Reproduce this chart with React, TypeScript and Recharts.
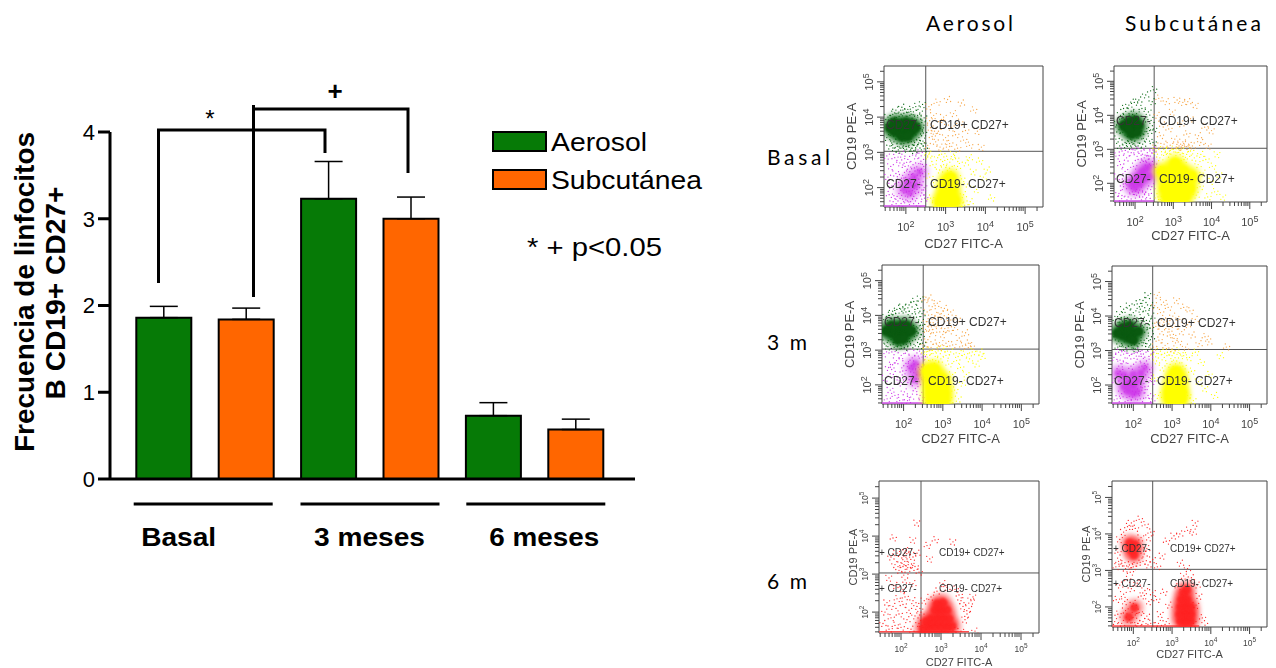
import React from 'react'
import {
  BarChart, Bar, ErrorBar, XAxis, YAxis,
  ScatterChart, Scatter, ReferenceArea, ReferenceLine,
} from 'recharts'

// --- bar chart values ---
const GROUPS = ['Basal', '3 meses', '6 meses']
const AEROSOL = [1.86, 3.23, 0.73]
const SUBCUTANEA = [1.84, 3.0, 0.57]
const AEROSOL_ERR = [0.13, 0.43, 0.15]
const SUBCUTANEA_ERR = [0.13, 0.25, 0.12]
const Y_TICKS = [0, 1, 2, 3, 4]

const barData = GROUPS.map((name, i) => ({
  name,
  aerosol: AEROSOL[i],
  subcutanea: SUBCUTANEA[i],
  aerosolErr: [0, AEROSOL_ERR[i]],
  subcutaneaErr: [0, SUBCUTANEA_ERR[i]],
}))

// --- cytometry events, read as [log10 CD27, log10 CD19] ---
type P = [number, number]

const B_A_GREEN: P[] = [[1.52,3.42],[1.58,3.71],[1.6,3.18],[1.63,3.95],[1.67,4.08],[1.7,3.3],[1.72,3.12],[1.75,4.2],[1.78,3.45],[1.81,3.07],[1.83,4.02],[1.86,3.24],[1.9,4.28],[1.92,3.15],[1.95,4.11],[1.98,3.33],[2.02,3.09],[2.05,4.22],[2.08,3.2],[2.1,4.05],[2.13,3.38],[2.16,3.12],[2.19,4.15],[2.22,3.28],[2.25,4.3],[2.28,3.18],[2.3,4.0],[2.33,3.42],[2.35,4.12],[2.38,3.25],[2.4,3.85],[2.42,4.36],[2.44,3.55],[2.46,3.1],[2.46,3.98],[1.55,4.0],[2.2,3.05],[1.66,3.55],[2.36,3.68],[2.43,3.32]]
const B_A_GREEN_CORE: P[] = [[1.6,3.7],[1.7,3.6],[1.7,3.85],[1.85,3.55],[1.85,3.8],[2.0,3.65],[2.0,3.85],[2.15,3.6],[2.15,3.8],[2.25,3.7],[1.9,3.45],[2.05,3.45]]
const B_A_ORANGE: P[] = [[2.55,3.2],[2.58,4.3],[2.62,3.7],[2.66,3.45],[2.7,4.05],[2.75,3.3],[2.78,4.42],[2.82,3.6],[2.86,3.15],[2.9,3.85],[2.95,4.0],[3.0,3.42],[3.05,4.5],[3.1,3.25],[3.15,3.7],[3.2,4.1],[3.25,3.5],[3.3,3.12],[3.35,3.85],[3.4,4.4],[3.45,3.35],[3.5,3.62],[3.6,3.2],[3.7,4.2],[3.8,3.6],[3.9,3.15],[2.6,3.9],[2.72,3.6],[3.02,3.15]]
const B_A_MAGENTA: P[] = [[1.52,2.9],[1.55,2.3],[1.58,1.8],[1.62,2.6],[1.65,2.05],[1.68,1.6],[1.72,2.85],[1.75,2.4],[1.78,1.75],[1.82,2.15],[1.85,2.7],[1.88,1.55],[1.9,2.95],[1.92,2.35],[1.95,1.85],[1.98,2.6],[2.0,1.65],[2.03,2.2],[2.05,2.8],[2.08,1.9],[2.1,2.45],[2.12,1.6],[2.15,2.05],[2.18,2.65],[2.2,1.75],[2.22,2.3],[2.25,2.9],[2.28,1.95],[2.3,2.5],[2.32,1.55],[2.35,2.15],[2.38,2.75],[2.4,1.85],[2.42,2.4],[2.45,2.6],[2.46,2.0],[2.33,2.98],[2.47,1.7]]
const B_A_MAGENTA_CORE: P[] = [[1.95,1.95],[2.05,2.15],[2.2,2.3],[2.35,2.45],[2.1,1.85],[2.25,2.05]]
const B_A_YELLOW: P[] = [[2.55,2.9],[2.6,2.3],[2.62,1.7],[2.68,2.65],[2.72,2.05],[2.75,1.55],[2.8,2.85],[2.85,2.5],[2.9,2.95],[2.95,2.65],[3.05,2.8],[3.1,2.55],[3.2,2.95],[3.3,2.6],[3.4,2.25],[3.45,1.8],[3.5,2.7],[3.55,2.1],[3.62,1.6],[3.7,2.45],[3.78,1.95],[3.85,2.75],[3.95,2.3],[4.05,2.5],[4.15,1.7],[3.35,1.55],[3.25,2.82],[2.58,2.95],[3.6,2.85],[3.48,1.5]]
const B_A_YELLOW_CORE: P[] = [[3.0,1.55],[3.1,1.6],[2.95,1.75],[3.12,1.8],[3.0,1.95],[3.15,2.0],[3.03,2.15],[3.12,2.28],[2.88,1.58],[3.22,1.62]]

const B_S_GREEN: P[] = [[1.5,3.3],[1.55,3.8],[1.6,3.1],[1.62,4.0],[1.68,3.5],[1.7,4.2],[1.74,3.2],[1.78,3.95],[1.8,3.08],[1.84,4.3],[1.88,3.3],[1.9,4.12],[1.94,3.15],[1.98,4.38],[2.0,3.25],[2.04,4.05],[2.08,3.1],[2.1,4.45],[2.14,3.4],[2.18,4.2],[2.2,3.15],[2.24,3.9],[2.28,4.6],[2.3,3.3],[2.35,4.1],[2.38,3.55],[2.42,3.85],[2.45,4.4],[2.47,3.2],[2.48,4.75],[2.48,3.6],[1.58,3.58],[2.26,3.52]]
const B_S_GREEN_CORE: P[] = [[1.7,3.7],[1.85,3.8],[1.95,3.6],[2.0,3.85],[2.1,3.7],[1.9,3.45],[2.05,3.5],[1.8,3.62]]
const B_S_ORANGE: P[] = [[2.55,3.1],[2.58,4.0],[2.62,4.5],[2.66,3.4],[2.7,3.75],[2.76,3.15],[2.82,4.4],[2.88,3.6],[2.92,3.12],[2.98,4.1],[3.04,3.3],[3.1,4.45],[3.15,3.1],[3.2,3.75],[3.25,4.38],[3.3,3.08],[3.35,3.45],[3.4,3.15],[3.45,3.9],[3.5,3.1],[3.58,4.3],[3.66,3.4],[3.72,3.2],[3.82,3.65],[3.92,3.1],[4.0,3.55],[3.12,3.05],[3.25,3.22],[3.38,4.4]]
const B_S_MAGENTA: P[] = [[1.5,2.8],[1.55,2.2],[1.58,1.7],[1.62,2.55],[1.66,2.95],[1.7,1.9],[1.74,2.35],[1.78,2.75],[1.82,1.6],[1.86,2.1],[1.9,2.9],[1.93,1.75],[1.96,2.5],[2.0,2.98],[2.04,1.65],[2.08,2.7],[2.12,1.8],[2.16,2.95],[2.2,1.6],[2.24,2.75],[2.28,1.75],[2.32,2.9],[2.36,1.65],[2.4,2.8],[2.44,1.9],[2.47,2.98],[2.48,2.55],[1.65,1.55],[1.75,2.05],[2.3,2.62]]
const B_S_MAGENTA_CORE: P[] = [[1.9,1.95],[2.0,2.05],[2.08,2.2],[2.18,2.35],[2.28,2.45],[2.38,2.5],[2.0,1.85],[2.12,1.98],[2.26,2.15],[2.4,2.2]]
const B_S_YELLOW: P[] = [[2.55,2.95],[2.6,1.6],[2.65,2.75],[2.7,1.5],[2.75,3.0],[2.82,2.85],[2.9,2.95],[3.0,3.0],[3.1,2.9],[3.2,2.98],[3.35,2.85],[3.45,2.95],[3.55,2.75],[3.6,1.65],[3.65,2.55],[3.7,1.9],[3.78,2.3],[3.85,2.7],[3.9,1.6],[3.96,2.05],[4.02,2.5],[4.08,1.75],[4.15,2.85],[4.2,2.25],[4.3,1.6],[3.28,2.7],[3.72,2.85],[2.62,2.4]]
const B_S_YELLOW_CORE: P[] = [[2.85,1.6],[3.0,1.6],[3.15,1.6],[3.3,1.62],[2.8,1.85],[2.95,1.85],[3.1,1.85],[3.25,1.85],[3.42,1.85],[2.85,2.1],[3.0,2.1],[3.15,2.1],[3.3,2.1],[2.95,2.35],[3.1,2.35],[3.25,2.35],[3.48,2.2],[2.72,2.35],[3.05,2.58]]

const M3_A_GREEN: P[] = [[1.5,3.2],[1.55,3.95],[1.6,3.1],[1.64,4.0],[1.68,3.3],[1.72,4.12],[1.76,3.08],[1.8,4.05],[1.84,3.2],[1.9,4.2],[1.94,3.12],[1.98,4.25],[2.02,3.08],[2.06,4.1],[2.1,3.25],[2.14,4.3],[2.18,3.15],[2.22,4.05],[2.26,4.4],[2.3,3.3],[2.33,3.95],[2.36,4.2],[2.38,3.1],[2.4,3.7],[2.43,4.48],[2.45,3.45],[2.47,4.05],[2.48,3.2],[2.46,3.8],[2.28,3.62],[2.37,3.5]]
const M3_A_GREEN_CORE: P[] = [[1.55,3.55],[1.68,3.5],[1.68,3.7],[1.8,3.45],[1.8,3.65],[1.95,3.5],[1.95,3.7],[2.08,3.5],[2.08,3.7],[2.2,3.55],[1.85,3.3],[2.0,3.32]]
const M3_A_ORANGE: P[] = [[2.52,3.15],[2.54,4.45],[2.56,3.6],[2.6,4.1],[2.62,3.3],[2.65,4.5],[2.68,3.8],[2.7,3.08],[2.73,4.25],[2.76,3.5],[2.8,4.0],[2.83,3.2],[2.86,4.35],[2.9,3.7],[2.92,3.1],[2.96,4.05],[3.0,3.45],[3.04,4.2],[3.08,3.2],[3.12,3.85],[3.16,3.55],[3.2,4.1],[3.25,3.15],[3.3,3.65],[3.36,3.9],[3.42,3.35],[3.5,3.12],[3.58,3.5],[3.65,3.2],[3.72,3.1],[2.58,3.82],[2.66,3.58],[2.78,3.7],[2.88,3.95],[3.05,3.62]]
const M3_A_MAGENTA: P[] = [[1.5,2.9],[1.54,2.2],[1.58,1.6],[1.62,2.5],[1.66,1.85],[1.7,2.95],[1.74,2.3],[1.78,1.7],[1.82,2.7],[1.86,2.05],[1.9,1.55],[1.94,2.85],[1.98,2.4],[2.02,1.8],[2.06,2.62],[2.1,2.98],[2.14,2.15],[2.18,1.65],[2.22,2.78],[2.26,2.35],[2.3,1.9],[2.34,2.92],[2.38,2.5],[2.42,1.7],[2.45,2.2],[2.47,2.8],[2.48,1.55],[2.2,2.55],[1.92,2.2],[2.4,2.1],[2.1,1.55],[1.72,2.58],[2.46,2.52]]
const M3_A_MAGENTA_CORE: P[] = [[2.2,2.5],[2.3,2.6],[2.38,2.32],[2.28,2.15]]
const M3_A_YELLOW: P[] = [[2.53,2.95],[2.56,2.5],[2.6,2.8],[2.65,2.98],[2.7,2.6],[2.75,2.9],[2.82,2.7],[2.88,2.98],[2.95,2.75],[3.02,3.05],[3.08,2.85],[3.15,2.6],[3.2,2.95],[3.25,2.3],[3.3,1.85],[3.35,2.7],[3.4,1.6],[3.45,2.5],[3.5,2.05],[3.55,2.88],[3.6,2.3],[3.68,2.75],[3.75,2.95],[3.85,2.6],[3.95,2.95],[3.42,2.9],[3.18,1.55],[4.0,2.82]]
const M3_A_YELLOW_CORE: P[] = [[2.72,1.55],[2.88,1.55],[3.02,1.55],[2.72,1.75],[2.88,1.75],[3.02,1.75],[2.7,1.95],[2.85,1.98],[3.0,1.95],[2.68,2.2],[2.85,2.22],[2.98,2.15],[2.62,2.4],[2.78,2.45]]

const M3_S_GREEN: P[] = [[1.5,3.4],[1.55,3.9],[1.6,3.1],[1.65,4.05],[1.7,3.2],[1.75,4.2],[1.8,3.08],[1.85,3.95],[1.9,4.3],[1.95,3.15],[2.0,4.1],[2.05,3.05],[2.1,4.35],[2.15,3.2],[2.2,3.95],[2.25,4.45],[2.28,3.3],[2.32,4.15],[2.35,3.6],[2.38,4.6],[2.4,3.1],[2.42,3.85],[2.45,4.3],[2.47,3.4],[2.48,4.0],[2.3,3.75],[2.12,3.85],[1.72,3.85],[2.44,3.65],[2.35,3.2],[2.18,4.2]]
const M3_S_GREEN_CORE: P[] = [[1.58,3.5],[1.72,3.45],[1.72,3.65],[1.86,3.38],[1.86,3.58],[2.0,3.5],[2.0,3.3],[2.14,3.55],[1.9,3.72]]
const M3_S_ORANGE: P[] = [[2.52,3.1],[2.55,4.3],[2.58,3.7],[2.62,4.6],[2.66,3.3],[2.7,4.1],[2.74,3.55],[2.78,4.4],[2.82,3.15],[2.86,3.85],[2.9,4.25],[2.95,3.45],[3.0,3.05],[3.02,4.0],[3.08,3.7],[3.12,4.45],[3.16,3.25],[3.2,3.9],[3.25,3.55],[3.3,4.25],[3.35,3.1],[3.4,3.75],[3.46,4.15],[3.52,3.45],[3.6,3.9],[3.7,3.2],[3.85,3.4],[3.95,3.25],[4.4,3.1],[2.68,3.8],[2.92,3.62],[3.05,3.35]]
const M3_S_MAGENTA: P[] = [[1.5,2.8],[1.54,2.1],[1.58,1.6],[1.62,2.95],[1.66,2.4],[1.7,1.75],[1.74,2.7],[1.78,2.98],[1.82,2.2],[1.86,1.55],[1.9,2.85],[1.94,2.55],[1.98,1.65],[2.02,2.92],[2.06,1.8],[2.1,2.75],[2.14,2.98],[2.18,1.6],[2.22,2.55],[2.26,2.9],[2.3,1.95],[2.34,2.7],[2.38,1.7],[2.42,2.45],[2.46,2.9],[2.47,2.1],[2.48,1.6],[1.68,2.62],[2.4,2.22],[2.22,1.85]]
const M3_S_MAGENTA_CORE: P[] = [[1.75,1.95],[1.88,2.05],[2.0,2.0],[2.12,2.12],[1.85,1.82],[2.0,1.75],[2.0,2.32],[1.75,2.3],[2.2,2.35],[2.3,2.5],[1.6,2.35],[2.12,1.8]]
const M3_S_YELLOW: P[] = [[2.52,2.9],[2.55,2.2],[2.6,2.7],[2.65,1.7],[2.7,2.98],[2.75,2.5],[2.8,2.8],[2.88,2.95],[2.95,2.6],[3.0,2.85],[3.08,3.0],[3.12,2.7],[3.2,2.92],[3.28,2.55],[3.35,2.15],[3.4,1.7],[3.45,2.8],[3.5,2.4],[3.55,1.55],[3.6,2.95],[3.68,2.1],[3.75,2.65],[3.85,1.9],[3.95,2.3],[4.1,1.7],[4.25,2.85],[3.3,2.85]]
const M3_S_YELLOW_CORE: P[] = [[2.95,1.6],[3.1,1.6],[3.22,1.6],[2.95,1.8],[3.1,1.8],[3.22,1.8],[3.0,2.0],[3.15,2.0],[3.05,2.2],[3.18,2.2],[3.1,2.38]]

const M6_A_RED: P[] = [[1.55,1.7],[1.6,2.0],[1.65,2.25],[1.7,1.55],[1.75,1.85],[1.8,2.15],[1.85,1.65],[1.9,2.35],[1.95,1.95],[2.0,1.6],[2.05,2.2],[2.1,2.4],[2.15,1.8],[2.2,2.05],[2.25,1.55],[2.3,2.3],[2.35,1.9],[2.4,2.15],[2.45,1.7],[2.5,2.0],[2.55,1.6],[2.58,2.3],[1.85,2.7],[2.05,2.6],[2.1,2.85],[1.7,2.9],[2.3,2.75],[1.95,3.1],[2.0,3.3],[2.05,3.5],[2.1,3.05],[2.15,3.4],[2.2,3.6],[2.25,3.15],[2.3,3.45],[1.9,3.55],[1.85,3.25],[1.75,3.45],[2.35,3.2],[2.4,3.55],[2.45,3.05],[2.4,4.35],[1.8,3.95],[2.3,3.9],[2.05,3.2],[2.18,3.25],[2.12,3.62],[2.65,3.75],[2.72,3.4],[2.85,3.9],[3.3,3.85],[3.1,1.5],[3.3,1.52],[3.5,1.5],[3.6,1.8],[3.7,2.1],[3.75,2.3],[3.8,2.4],[3.55,2.15],[3.45,2.45],[3.35,2.6],[3.15,2.65],[3.05,2.75],[2.9,2.55],[2.75,2.4],[3.5,2.3],[3.65,1.95],[3.85,1.5]]
const M6_A_RED_CORE: P[] = [[2.7,1.6],[2.85,1.6],[3.0,1.6],[3.15,1.6],[3.28,1.62],[2.75,1.82],[2.9,1.82],[3.05,1.82],[3.2,1.82],[2.85,2.05],[3.0,2.05],[3.15,2.05],[2.9,2.22],[3.05,2.25],[2.55,1.55],[2.62,1.75]]

const M6_S_RED: P[] = [[1.52,1.6],[1.56,2.2],[1.6,1.8],[1.65,2.6],[1.7,1.55],[1.75,2.35],[1.8,1.9],[1.85,2.75],[1.9,1.65],[1.95,2.5],[2.0,2.1],[2.05,1.5],[2.1,2.65],[2.15,1.85],[2.2,2.3],[2.25,1.6],[2.3,2.45],[2.35,1.75],[2.4,2.15],[2.45,1.55],[2.5,2.4],[1.92,2.95],[2.05,1.78],[1.78,2.15],[2.12,1.55],[1.55,3.1],[1.6,3.5],[1.65,3.85],[1.7,3.2],[1.75,4.05],[1.8,3.05],[1.85,4.2],[1.9,3.15],[1.95,4.3],[2.0,3.1],[2.05,4.15],[2.1,3.2],[2.15,4.4],[2.2,3.9],[2.25,3.25],[2.3,4.25],[2.35,3.6],[2.4,3.9],[2.45,4.05],[2.5,3.3],[1.62,3.25],[2.28,3.45],[2.38,3.15],[2.62,3.1],[2.75,3.4],[2.85,3.8],[3.05,3.95],[3.2,4.0],[3.4,4.1],[3.55,4.05],[3.6,4.3],[3.22,3.2],[3.4,3.05],[2.6,2.2],[2.7,1.8],[2.78,2.4],[2.85,1.6],[2.92,2.05],[2.65,1.55],[3.55,1.55],[3.62,2.05],[3.7,2.3],[3.78,1.7],[3.85,1.5],[3.5,2.8],[3.3,2.85],[3.15,2.55],[3.65,2.6]]
const M6_S_RED_CORE: P[] = [[1.95,3.55],[2.05,3.7],[1.9,3.75],[2.02,3.42],[1.88,1.72],[2.03,1.98],[3.22,1.6],[3.35,1.6],[3.48,1.6],[3.2,1.8],[3.35,1.8],[3.48,1.8],[3.22,2.0],[3.36,2.0],[3.48,2.0],[3.25,2.2],[3.38,2.2],[3.3,2.38],[3.38,2.48]]

// --- minor/major log tick positions ---
const DECADES = [1, 2, 3, 4, 5]
const LOG_STEPS = [0, 0.3, 0.48, 0.6, 0.7, 0.78, 0.85, 0.9, 0.95]
const MAJOR_TICKS = [2, 3, 4, 5]
const FLOW_DOMAIN: [number, number] = [1.45, 5.45]
const GATE_X = 2.5
const GATE_Y = 3.03
const FLOW_TICKS = DECADES.flatMap((d) => LOG_STEPS.map((s) => +(d + s).toFixed(2)))
  .filter((t) => t >= FLOW_DOMAIN[0] && t <= FLOW_DOMAIN[1])

const COL = {
  green: '#0a6a14',
  greenCore: '#0a5a10',
  orange: '#f7a545',
  magenta: '#cc2ee8',
  yellow: '#ffff00',
  red: '#ff2222',
}

const PAD = { left: 44, top: 4, right: 6, bottom: 50 }

const SPECKS = [
  [[0, 0], [2.6, -1.8], [-2.2, 2.4], [-3.1, -2.6], [1.4, 3.2]],
  [[0, 0], [-2.8, 1], [2.2, 2.8], [3.3, -0.6], [-1, -3.2]],
  [[0, 0], [1.8, -3], [-3.2, -0.8], [3, 2], [-1.2, 2.9]],
]

type Group = { data: P[]; color: string; kind: 'dots' | 'core' | 'haze'; r?: number; opacity?: number }

type PanelProps = {
  x: number
  y: number
  w: number
  h: number
  groups: Group[]
  floor: string
  floorEnd?: number
  small?: boolean
  labelDrop: number
  yLabelGap: number
  labels: { tlx: number; tly: number; trx: number; bly: number; tl: string; bl: string }
}

const drawEvent = (g: Group) => (s: any) => {
  if (g.kind === 'dots') {
    const tuft = SPECKS[Math.round(s.cx * 7 + s.cy * 3) % 3]
    return (
      <g fill={g.color}>
        {tuft.map(([dx, dy], i) => (
          <circle key={i} cx={s.cx + dx} cy={s.cy + dy} r={0.65} />
        ))}
      </g>
    )
  }
  return (
    <circle
      cx={s.cx}
      cy={s.cy}
      r={g.r}
      fill={g.color}
      fillOpacity={g.opacity ?? 1}
      style={{ filter: g.kind === 'haze' ? 'blur(2.5px)' : 'blur(1px)' }}
    />
  )
}

const FlowPanel = ({ x, y, w, h, groups, floor, floorEnd = GATE_X, small, labelDrop, yLabelGap, labels }: PanelProps) => {
  const textSize = small ? 10 : 12
  const tickSize = small ? 8.5 : 11
  const axisSize = small ? 11 : 13
  const tickDrop = small ? 19 : 24

  const xTick = (p: any) => {
    const major = MAJOR_TICKS.includes(p.payload.value)
    return (
      <g>
        <line x1={p.x} x2={p.x} y1={h + PAD.top} y2={h + PAD.top + (major ? 7 : 4)} stroke="#444" />
        {major && (
          <text x={p.x} y={h + PAD.top + tickDrop} textAnchor="middle" fontSize={tickSize} fill="#444">
            10<tspan dy={-4} fontSize={tickSize - 2}>{p.payload.value}</tspan>
          </text>
        )}
      </g>
    )
  }

  const yTick = (p: any) => {
    const major = MAJOR_TICKS.includes(p.payload.value)
    const tx = PAD.left - 11
    return (
      <g>
        <line x1={PAD.left} x2={PAD.left - (major ? 7 : 4)} y1={p.y} y2={p.y} stroke="#444" />
        {major && (
          <text transform={`rotate(-90 ${tx} ${p.y})`} x={tx} y={p.y} textAnchor="middle" fontSize={tickSize} fill="#444">
            10<tspan dy={-4} fontSize={tickSize - 2}>{p.payload.value}</tspan>
          </text>
        )}
      </g>
    )
  }

  return (
    <div style={{ position: 'absolute', left: x - PAD.left, top: y - PAD.top, filter: 'blur(0.35px)' }}>
      <ScatterChart
        width={w + PAD.left + PAD.right}
        height={h + PAD.top + PAD.bottom}
        margin={{ top: PAD.top, right: PAD.right, bottom: 0, left: 0 }}
        style={{ fontFamily: '"Liberation Sans", Arial, sans-serif' }}
      >
        <XAxis
          type="number"
          dataKey="x"
          domain={FLOW_DOMAIN}
          ticks={FLOW_TICKS}
          interval={0}
          height={PAD.bottom}
          axisLine={false}
          tickLine={false}
          tick={xTick}
          allowDataOverflow
          label={{ value: 'CD27 FITC-A', position: 'insideTop', offset: labelDrop - axisSize / 2 + 2, fontSize: axisSize, fill: '#444' }}
        />
        <YAxis
          type="number"
          dataKey="y"
          domain={FLOW_DOMAIN}
          ticks={FLOW_TICKS}
          interval={0}
          width={PAD.left}
          axisLine={false}
          tickLine={false}
          tick={yTick}
          allowDataOverflow
          label={{ value: 'CD19 PE-A', angle: -90, position: 'insideRight', offset: yLabelGap, fontSize: axisSize, fill: '#444', textAnchor: 'middle' }}
        />
        {groups.map((g, i) => (
          <Scatter
            key={i}
            data={g.data.map(([a, b]) => ({ x: a, y: b }))}
            isAnimationActive={false}
            shape={drawEvent(g)}
          />
        ))}
        <ReferenceLine segment={[{ x: FLOW_DOMAIN[0], y: 1.48 }, { x: floorEnd, y: 1.48 }]} stroke={floor} strokeWidth={1.5} />
        <ReferenceArea x1={FLOW_DOMAIN[0]} x2={FLOW_DOMAIN[1]} y1={FLOW_DOMAIN[0]} y2={FLOW_DOMAIN[1]} fill="none" stroke="#444" strokeWidth={1} />
        <ReferenceLine x={GATE_X} stroke="#555" />
        <ReferenceLine y={GATE_Y} stroke="#555" />
      </ScatterChart>
      <svg
        width={w + PAD.left + PAD.right}
        height={h + PAD.top + PAD.bottom}
        style={{ position: 'absolute', left: 0, top: 0, pointerEvents: 'none' }}
        fontFamily='"Liberation Sans", Arial, sans-serif'
        fontSize={textSize}
        fill="#333"
      >
        <text x={PAD.left + labels.tlx} y={PAD.top + labels.tly + 4}>{labels.tl}</text>
        <text x={PAD.left + labels.trx} y={PAD.top + labels.tly + 4}>CD19+ CD27+</text>
        <text x={PAD.left + labels.tlx} y={PAD.top + labels.bly + 4}>{labels.bl}</text>
        <text x={PAD.left + labels.trx} y={PAD.top + labels.bly + 4}>CD19- CD27+</text>
      </svg>
    </div>
  )
}

const fourGates = (green: P[], greenCore: P[], orange: P[], magenta: P[], magentaCore: P[], yellow: P[], yellowCore: P[]): Group[] => [
  { data: magentaCore, color: COL.magenta, kind: 'haze', r: 9, opacity: 0.35 },
  { data: magenta, color: COL.magenta, kind: 'dots' },
  { data: magentaCore, color: COL.magenta, kind: 'core', r: 3.5, opacity: 0.6 },
  { data: yellowCore, color: COL.yellow, kind: 'haze', r: 10, opacity: 0.7 },
  { data: yellow, color: COL.yellow, kind: 'dots' },
  { data: yellowCore, color: COL.yellow, kind: 'core', r: 6 },
  { data: orange, color: COL.orange, kind: 'dots' },
  { data: greenCore, color: COL.green, kind: 'haze', r: 9, opacity: 0.55 },
  { data: green, color: COL.green, kind: 'dots' },
  { data: greenCore, color: COL.greenCore, kind: 'core', r: 5 },
]

const redGates = (red: P[], core: P[]): Group[] => [
  { data: core, color: COL.red, kind: 'haze', r: 9, opacity: 0.5 },
  { data: red, color: COL.red, kind: 'dots' },
  { data: core, color: COL.red, kind: 'core', r: 4.5, opacity: 0.85 },
]

const LegendBox = () => (
  <div style={{ position: 'absolute', left: 492, top: 120 }}>
    {[['Aerosol', '#067a06'], ['Subcutánea', '#ff6600']].map(([name, color], i) => (
      <svg key={name} width={230} height={38} style={{ display: 'block' }}>
        <rect x={1} y={12} width={53} height={19} fill={color} stroke="#000" strokeWidth={2} />
        <text x={59} y={31} fontSize={26} fontFamily='"Liberation Sans", Arial, sans-serif' textLength={i === 0 ? 96 : 151} lengthAdjust="spacingAndGlyphs">{name}</text>
      </svg>
    ))}
  </div>
)

const GROUP_LABEL_SHIFT = [-26, 0, 10]
const GROUP_LABEL_LEN = [75, 111, 110]
const GROUP_LINE_SHIFT = [0, 2, 3]

const GroupTick = (p: any) => {
  const i = p.index
  return (
    <g>
      <line x1={p.x - 71 + GROUP_LINE_SHIFT[i]} x2={p.x + 68 + GROUP_LINE_SHIFT[i]} y1={504} y2={504} stroke="#000" strokeWidth={3} />
      <text
        x={p.x + GROUP_LABEL_SHIFT[i]}
        y={546}
        textAnchor="middle"
        fontSize={26}
        fontWeight="bold"
        fill="#000"
        textLength={GROUP_LABEL_LEN[i]}
        lengthAdjust="spacingAndGlyphs"
      >
        {p.payload.value}
      </text>
    </g>
  )
}

export default function App() {
  return (
    <div style={{ position: 'absolute', left: 0, top: 0, width: 1276, height: 668, overflow: 'hidden', background: '#fff', fontFamily: '"Liberation Sans", Arial, sans-serif' }}>
      {/* grafico de barras */}
      <div style={{ position: 'absolute', left: 0, top: 0 }}>
        <BarChart
          width={720}
          height={580}
          data={barData}
          margin={{ top: 132, right: 85, bottom: 0, left: 0 }}
          barSize={55}
          barGap={27.4}
          barCategoryGap={13.7}
          style={{ fontFamily: '"Liberation Sans", Arial, sans-serif' }}
        >
          <XAxis
            dataKey="name"
            height={101}
            padding={{ left: 12.3, right: 18.3 }}
            axisLine={{ stroke: '#000', strokeWidth: 3 }}
            tickLine={false}
            interval={0}
            tick={GroupTick}
          />
          <YAxis
            width={110}
            domain={[0, 4]}
            ticks={Y_TICKS}
            axisLine={{ stroke: '#000', strokeWidth: 3 }}
            tickLine={{ stroke: '#000', strokeWidth: 3 }}
            tickSize={12}
            tickMargin={3}
            tick={{ fill: '#000', fontSize: 22 }}
          />
          <Bar dataKey="aerosol" fill="#067a06" stroke="#000" strokeWidth={2} isAnimationActive={false}>
            <ErrorBar dataKey="aerosolErr" width={14} stroke="#000" strokeWidth={1.5} direction="y" isAnimationActive={false} />
          </Bar>
          <Bar dataKey="subcutanea" fill="#ff6600" stroke="#000" strokeWidth={2} isAnimationActive={false}>
            <ErrorBar dataKey="subcutaneaErr" width={14} stroke="#000" strokeWidth={1.5} direction="y" isAnimationActive={false} />
          </Bar>
        </BarChart>
      </div>

      {/* anotaciones */}
      <svg width={720} height={580} style={{ position: 'absolute', left: 0, top: 0, pointerEvents: 'none' }} fontFamily='"Liberation Sans", Arial, sans-serif'>
        <text transform="rotate(-90 34 292)" x={34} y={292} textAnchor="middle" fontSize={27} fontWeight="bold" textLength={320} lengthAdjust="spacingAndGlyphs">Frecuencia de linfocitos</text>
        <text transform="rotate(-90 65 293)" x={65} y={293} textAnchor="middle" fontSize={27} fontWeight="bold" textLength={213} lengthAdjust="spacingAndGlyphs">B CD19+ CD27+</text>
        <path d="M158.5 283 V130 H325 V153" fill="none" stroke="#000" strokeWidth={3} />
        <path d="M253.5 297 V105 M252 109 H408 V173" fill="none" stroke="#000" strokeWidth={3} />
        <text x={210} y={127} textAnchor="middle" fontSize={24}>*</text>
        <text x={335} y={100} textAnchor="middle" fontSize={26} fontWeight="bold">+</text>
        <text x={527} y={256} fontSize={26} textLength={135} lengthAdjust="spacingAndGlyphs">* + p&lt;0.05</text>
      </svg>
      <LegendBox />

      {/* titulos de los paneles */}
      <svg width={1276} height={668} style={{ position: 'absolute', left: 0, top: 0, pointerEvents: 'none' }} fontFamily='Lato, "Open Sans", sans-serif' fontSize={21} fill="#000">
        <text x={926} y={31} textLength={87}>Aerosol</text>
        <text x={1125} y={31} textLength={136}>Subcutánea</text>
        <text x={767} y={165} textLength={63}>Basal</text>
        <text x={767} y={350} textLength={40}>3 m</text>
        <text x={767} y={589} textLength={40}>6 m</text>
      </svg>

      <FlowPanel x={884} y={66} w={159} h={141} labelDrop={36} yLabelGap={33}
        groups={fourGates(B_A_GREEN, B_A_GREEN_CORE, B_A_ORANGE, B_A_MAGENTA, B_A_MAGENTA_CORE, B_A_YELLOW, B_A_YELLOW_CORE)}
        floor="#d050e8"
        labels={{ tlx: 2, tly: 59, trx: 46, bly: 118, tl: 'CD27-', bl: 'CD27-' }} />
      <FlowPanel x={1114} y={66} w={153} h={136} labelDrop={33} yLabelGap={33}
        groups={fourGates(B_S_GREEN, B_S_GREEN_CORE, B_S_ORANGE, B_S_MAGENTA, B_S_MAGENTA_CORE, B_S_YELLOW, B_S_YELLOW_CORE)}
        floor="#d050e8"
        labels={{ tlx: 2, tly: 55, trx: 45, bly: 113, tl: 'CD27-', bl: 'CD27-' }} />
      <FlowPanel x={882} y={265} w={157} h={139} labelDrop={34} yLabelGap={33}
        groups={fourGates(M3_A_GREEN, M3_A_GREEN_CORE, M3_A_ORANGE, M3_A_MAGENTA, M3_A_MAGENTA_CORE, M3_A_YELLOW, M3_A_YELLOW_CORE)}
        floor="#d050e8"
        labels={{ tlx: 2, tly: 57, trx: 46, bly: 116, tl: 'CD27-', bl: 'CD27-' }} />
      <FlowPanel x={1112} y={266} w={155} h={138} labelDrop={34} yLabelGap={33}
        groups={fourGates(M3_S_GREEN, M3_S_GREEN_CORE, M3_S_ORANGE, M3_S_MAGENTA, M3_S_MAGENTA_CORE, M3_S_YELLOW, M3_S_YELLOW_CORE)}
        floor="#d050e8"
        labels={{ tlx: 2, tly: 57, trx: 45, bly: 115, tl: 'CD27-', bl: 'CD27-' }} />
      <FlowPanel x={879} y={481} w={160} h={152} small labelDrop={29} yLabelGap={26}
        groups={redGates(M6_A_RED, M6_A_RED_CORE)}
        floor="#ff5050"
        floorEnd={3.7}
        labels={{ tlx: 0, tly: 71, trx: 60, bly: 107, tl: '+ CD27-', bl: '+ CD27-' }} />
      <FlowPanel x={1112} y={481} w={155} h={146} small labelDrop={27} yLabelGap={26}
        groups={redGates(M6_S_RED, M6_S_RED_CORE)}
        floor="#ff5050"
        floorEnd={3.7}
        labels={{ tlx: 1, tly: 67, trx: 58, bly: 102, tl: '+ CD27-', bl: '+ CD27-' }} />
    </div>
  )
}
